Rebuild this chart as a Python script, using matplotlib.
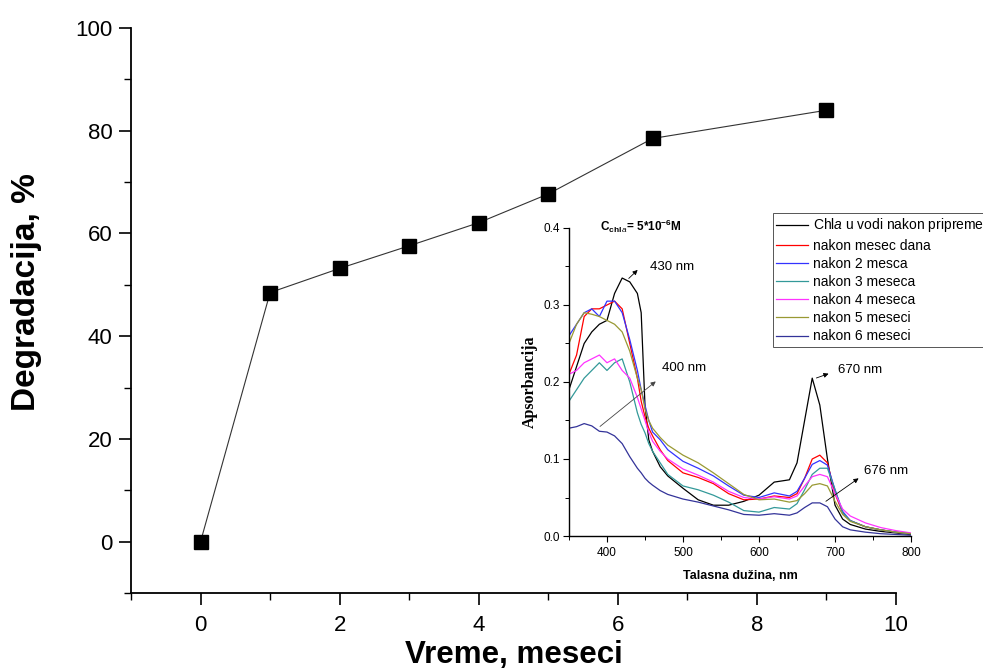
import matplotlib
matplotlib.use("Agg")
import matplotlib.pyplot as plt
from matplotlib.ticker import MultipleLocator, FormatStrFormatter

plt.rcParams['font.family'] = ['Liberation Sans', 'DejaVu Sans']
plt.rcParams['mathtext.fontset'] = 'custom'
plt.rcParams['mathtext.rm'] = 'Liberation Sans'
plt.rcParams['mathtext.it'] = 'Liberation Sans:italic'
plt.rcParams['mathtext.bf'] = 'Liberation Sans:bold'

# glavni grafik: degradacija u vremenu
vreme = [0, 1, 2, 3, 4, 5, 6.5, 9]
degradacija = [0, 48.5, 53.2, 57.6, 62.1, 67.7, 78.5, 84.0]

# umetak: apsorpcioni spektri
talasna = [350, 360, 370, 380, 390, 400, 410, 420, 430, 440, 445, 450, 455, 460,
           470, 480, 500, 520, 540, 560, 580, 600, 620, 640, 650, 660, 670, 680,
           690, 700, 710, 720, 740, 760, 780, 800]
chla_0 = [0.19, 0.22, 0.25, 0.265, 0.275, 0.28, 0.315, 0.335, 0.33, 0.315, 0.29, 0.17,
          0.125, 0.11, 0.09, 0.078, 0.062, 0.047, 0.040, 0.040, 0.045, 0.053, 0.070,
          0.073, 0.095, 0.15, 0.205, 0.17, 0.10, 0.04, 0.022, 0.015, 0.009, 0.006,
          0.004, 0.002]
mesec_1 = [0.21, 0.235, 0.285, 0.295, 0.295, 0.30, 0.305, 0.295, 0.25, 0.205, 0.175,
           0.155, 0.14, 0.13, 0.112, 0.098, 0.082, 0.076, 0.068, 0.055, 0.047, 0.048,
           0.052, 0.05, 0.055, 0.075, 0.10, 0.105, 0.095, 0.055, 0.03, 0.02, 0.012,
           0.008, 0.005, 0.003]
mesec_2 = [0.26, 0.275, 0.29, 0.295, 0.285, 0.305, 0.305, 0.29, 0.255, 0.215, 0.19,
           0.17, 0.15, 0.135, 0.125, 0.112, 0.097, 0.088, 0.078, 0.065, 0.053, 0.05,
           0.056, 0.052, 0.058, 0.075, 0.093, 0.098, 0.092, 0.06, 0.032, 0.02, 0.012,
           0.008, 0.005, 0.003]
mesec_3 = [0.175, 0.19, 0.205, 0.215, 0.225, 0.215, 0.225, 0.23, 0.2, 0.16, 0.145,
           0.134, 0.12, 0.11, 0.095, 0.08, 0.065, 0.06, 0.053, 0.044, 0.033, 0.031,
           0.037, 0.035, 0.042, 0.06, 0.08, 0.088, 0.088, 0.06, 0.03, 0.02, 0.012,
           0.008, 0.005, 0.003]
mesec_4 = [0.21, 0.215, 0.225, 0.23, 0.235, 0.225, 0.23, 0.215, 0.205, 0.18, 0.165,
           0.15, 0.135, 0.123, 0.11, 0.1, 0.087, 0.079, 0.07, 0.058, 0.05, 0.048,
           0.051, 0.048, 0.052, 0.065, 0.077, 0.08, 0.077, 0.055, 0.035, 0.026, 0.017,
           0.011, 0.007, 0.004]
mesec_5 = [0.25, 0.275, 0.29, 0.288, 0.285, 0.28, 0.275, 0.265, 0.24, 0.205, 0.19,
           0.165, 0.15, 0.14, 0.128, 0.118, 0.105, 0.095, 0.082, 0.068, 0.054, 0.047,
           0.048, 0.044, 0.046, 0.055, 0.066, 0.068, 0.065, 0.045, 0.028, 0.019,
           0.012, 0.008, 0.005, 0.003]
mesec_6 = [0.14, 0.142, 0.146, 0.143, 0.136, 0.135, 0.13, 0.12, 0.103, 0.088, 0.082,
           0.075, 0.07, 0.066, 0.059, 0.054, 0.048, 0.044, 0.039, 0.034, 0.028, 0.027,
           0.029, 0.027, 0.03, 0.037, 0.043, 0.043, 0.038, 0.022, 0.012, 0.008, 0.005,
           0.003, 0.002, 0.001]

spektri = [chla_0, mesec_1, mesec_2, mesec_3, mesec_4, mesec_5, mesec_6]
nazivi = [r'Chl$\mathit{a}$ u vodi nakon pripreme', 'nakon mesec dana', 'nakon 2 mesca',
          'nakon 3 meseca', 'nakon 4 meseca', 'nakon 5 meseci', 'nakon 6 meseci']
boje = ['black', '#ff0000', '#3333ff', '#339999', '#ff33ff', '#999933', '#333399']

fig = plt.figure(figsize=(9.83, 6.68), dpi=100)
ax = fig.add_axes([0.1333, 0.1123, 0.7782, 0.8457])
ax.plot(vreme, degradacija, color='#333333', lw=0.8, marker='s', ms=9.5,
        mfc='black', mec='black', clip_on=False, zorder=3)
ax.set_xlim(-1, 10)
ax.set_ylim(-10, 100)
ax.xaxis.set_major_locator(MultipleLocator(2))
ax.xaxis.set_minor_locator(MultipleLocator(1))
ax.yaxis.set_minor_locator(MultipleLocator(10))
ax.set_yticks([0, 20, 40, 60, 80, 100])
for s in ['top', 'right']:
    ax.spines[s].set_visible(False)
for s in ['left', 'bottom']:
    ax.spines[s].set_linewidth(1.3)
ax.tick_params(which='major', direction='out', length=8.5, width=1.2, labelsize=16)
ax.tick_params(axis='x', which='major', pad=7)
ax.tick_params(axis='y', which='major', pad=5)
ax.tick_params(which='minor', direction='out', length=5, width=1.0)
ax.set_xlabel('Vreme, meseci', fontsize=22.5, fontweight='bold', labelpad=3)
ax.set_ylabel('Degradacija, %', fontsize=24, fontweight='bold')
ax.yaxis.set_label_coords(-0.117, 0.533)

# umetak
ins = fig.add_axes([0.5788, 0.1976, 0.348, 0.4611])
ins.patch.set_alpha(0)
for sp, boja, naziv in zip(spektri, boje, nazivi):
    ins.plot(talasna, sp, color=boja, lw=0.9, label=naziv)
ins.set_xlim(350, 800)
ins.set_ylim(0, 0.4)
ins.xaxis.set_major_locator(MultipleLocator(100))
ins.xaxis.set_minor_locator(MultipleLocator(50))
ins.yaxis.set_major_locator(MultipleLocator(0.1))
ins.yaxis.set_minor_locator(MultipleLocator(0.05))
ins.yaxis.set_major_formatter(FormatStrFormatter('%.1f'))
for s in ['top', 'right']:
    ins.spines[s].set_visible(False)
for s in ['left', 'bottom']:
    ins.spines[s].set_linewidth(1.0)
ins.tick_params(which='major', direction='out', length=4.5, width=0.8, labelsize=8.5, pad=2)
ins.tick_params(axis='x', which='major', pad=3.5)
ins.tick_params(which='minor', direction='out', length=3, width=0.7)
ins.set_xlabel('Talasna dužina, nm', fontsize=9, fontweight='bold', labelpad=8)
ins.set_ylabel('Apsorbancija', fontsize=11.5, fontweight='bold',
               family=['Liberation Serif', 'DejaVu Serif'], labelpad=4)
ins.text(0.21, 0.99, r'C$_{\mathbf{chl}\,\mathbf{\mathit{a}}}$= 5*10$^{\mathbf{-6}}$M',
         transform=ins.transAxes, ha='center', va='baseline', fontsize=8.5,
         fontweight='bold')

strelica = dict(arrowstyle='-|>', color='black', lw=0.6, mutation_scale=7)
ins.annotate('', xy=(443, 0.348), xytext=(426, 0.332), arrowprops=strelica)
ins.text(457, 0.349, '430 nm', fontsize=9.5, ha='left', va='center')
ins.annotate('', xy=(467, 0.203), xytext=(388, 0.14),
             arrowprops=dict(strelica, color='#444444'))
ins.text(473, 0.218, '400 nm', fontsize=9.5, ha='left', va='center')
ins.annotate('', xy=(695, 0.212), xytext=(672, 0.204), arrowprops=strelica)
ins.text(704, 0.216, '670 nm', fontsize=9.5, ha='left', va='center')
ins.annotate('', xy=(734, 0.077), xytext=(685, 0.043), arrowprops=strelica)
ins.text(738, 0.084, '676 nm', fontsize=9.5, ha='left', va='center')

leg = fig.legend(loc='upper left', bbox_to_anchor=(773 / 983, 1 - 213 / 668),
                 fontsize=10, frameon=True, fancybox=False, framealpha=1,
                 edgecolor='#555555', handlelength=2.3, handletextpad=0.3,
                 labelspacing=0.3, borderpad=0.25, borderaxespad=0)
leg.get_frame().set_linewidth(0.7)

fig.savefig('out.png', dpi=100)
